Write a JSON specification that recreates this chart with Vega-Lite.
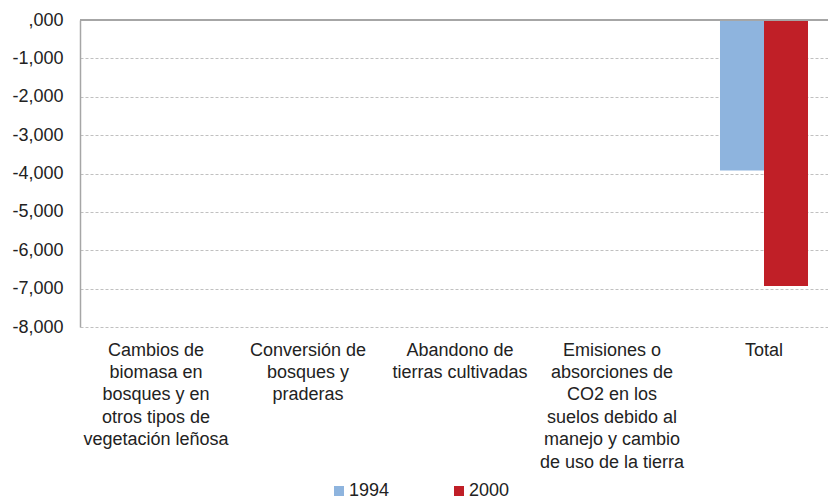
{
  "$schema": "https://vega.github.io/schema/vega-lite/v6.json",
  "autosize": {"type": "none"},
  "padding": {"left": 80, "top": 20, "right": 0, "bottom": 172},
  "width": 748,
  "height": 307,
  "background": "white",
  "config": {
    "view": {"stroke": null},
    "font": "Liberation Sans",
    "axis": {"labelFont": "Liberation Sans", "labelColor": "#222222"},
    "legend": {"labelFont": "Liberation Sans", "labelColor": "#222222"}
  },
  "data": {
    "values": [
      {"categoria": "Cambios de\nbiomasa en\nbosques y en\notros tipos de\nvegetación leñosa", "anio": "1994", "valor": 0},
      {"categoria": "Cambios de\nbiomasa en\nbosques y en\notros tipos de\nvegetación leñosa", "anio": "2000", "valor": 0},
      {"categoria": "Conversión de\nbosques y\npraderas", "anio": "1994", "valor": 0},
      {"categoria": "Conversión de\nbosques y\npraderas", "anio": "2000", "valor": 0},
      {"categoria": "Abandono de\ntierras cultivadas", "anio": "1994", "valor": 0},
      {"categoria": "Abandono de\ntierras cultivadas", "anio": "2000", "valor": 0},
      {"categoria": "Emisiones o\nabsorciones de\nCO2 en los\nsuelos debido al\nmanejo y cambio\nde uso de la tierra", "anio": "1994", "valor": 0},
      {"categoria": "Emisiones o\nabsorciones de\nCO2 en los\nsuelos debido al\nmanejo y cambio\nde uso de la tierra", "anio": "2000", "valor": 0},
      {"categoria": "Total", "anio": "1994", "valor": -3920},
      {"categoria": "Total", "anio": "2000", "valor": -6930}
    ]
  },
  "layer": [
    {
      "mark": {"type": "bar"},
      "encoding": {
        "x": {
          "field": "categoria",
          "type": "nominal",
          "sort": null,
          "scale": {"range": [0, 760], "paddingInner": 0.421, "paddingOuter": 0.2105},
          "axis": {
            "title": null,
            "domain": false,
            "ticks": false,
            "tickSize": 0,
            "grid": false,
            "labelAngle": 0,
            "labelFontSize": 18,
            "labelLineHeight": 22.4,
            "labelPadding": 14,
            "labelBaseline": "top",
            "labelLimit": 0,
            "labelOverlap": false,
            "labelBound": false,
            "labelExpr": "split(datum.label, '\\n')"
          }
        },
        "xOffset": {"field": "anio", "type": "nominal", "sort": ["1994", "2000"]},
        "y": {
          "field": "valor",
          "type": "quantitative",
          "scale": {"domain": [-8000, 0], "nice": false, "zero": false},
          "axis": {
            "title": null,
            "values": [-8000, -7000, -6000, -5000, -4000, -3000, -2000, -1000, 0],
            "labelOverlap": false,
            "labelExpr": "datum.value == 0 ? ',000' : '-' + format(abs(datum.value), ',')",
            "labelFontSize": 18,
            "labelPadding": 17,
            "ticks": false,
            "tickSize": 0,
            "domain": true,
            "domainColor": "#a6a6a6",
            "domainWidth": 1.5,
            "grid": true,
            "gridColor": "#c0c0c0",
            "gridDash": [3, 2],
            "gridWidth": 1
          }
        },
        "color": {
          "field": "anio",
          "type": "nominal",
          "scale": {"domain": ["1994", "2000"], "range": ["#8eb4de", "#c01f27"]},
          "legend": {
            "title": null,
            "orient": "none",
            "direction": "horizontal",
            "legendX": 250,
            "legendY": 462,
            "padding": 0,
            "symbolType": "square",
            "symbolSize": 100,
            "symbolStrokeWidth": 0,
            "labelFontSize": 18,
            "labelOffset": 1,
            "columnPadding": 60
          }
        }
      }
    },
    {
      "mark": {"type": "rule", "color": "#a6a6a6", "strokeWidth": 1.5},
      "encoding": {
        "y": {
          "datum": 0,
          "type": "quantitative",
          "axis": {
            "title": null,
            "values": [-8000, -7000, -6000, -5000, -4000, -3000, -2000, -1000, 0],
            "labelOverlap": false,
            "labelExpr": "datum.value == 0 ? ',000' : '-' + format(abs(datum.value), ',')",
            "labelFontSize": 18,
            "labelPadding": 17,
            "ticks": false,
            "tickSize": 0,
            "domain": true,
            "domainColor": "#a6a6a6",
            "domainWidth": 1.5,
            "grid": true,
            "gridColor": "#c0c0c0",
            "gridDash": [3, 2],
            "gridWidth": 1
          }
        }
      }
    }
  ]
}
